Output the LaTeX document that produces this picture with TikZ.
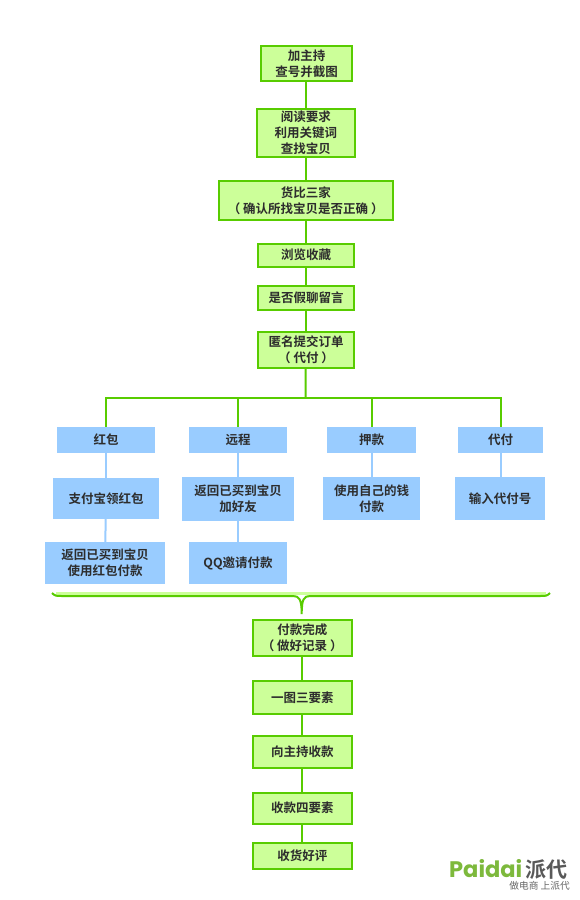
\documentclass[tikz,border=0pt]{standalone}
\usepackage{fontspec}
\setmainfont{Liberation Sans}
\newfontfamily\cjk{Noto Sans CJK SC}[BoldFont={* Bold}]
\newfontfamily\logofont{Poppins}[BoldFont={* Bold}]
\usepackage{xcolor}
\usetikzlibrary{positioning, calc}
\definecolor{pGreenFill}{RGB}{204,255,153}
\definecolor{pGreenLine}{RGB}{88,204,0}
\definecolor{pBlue}{RGB}{153,204,255}
\definecolor{pInk}{RGB}{45,45,45}
\definecolor{pLogo}{RGB}{125,185,60}
\tikzset{
  greenbox/.style={
    rectangle, draw=pGreenLine, line width=2pt, fill=pGreenFill,
    align=center, inner sep=0pt, text=pInk,
    font=\cjk\fontsize{12.5}{16}\selectfont\bfseries
  },
  bluebox/.style={
    rectangle, fill=pBlue,
    align=center, inner sep=0pt, text=pInk,
    font=\cjk\fontsize{12.5}{16}\selectfont\bfseries
  },
  greenline/.style={pGreenLine, line width=2pt},
  blueline/.style={pBlue, line width=2pt}
}
% box with pixel edges: left, right, top, bottom
\newcommand{\pxbox}[7]{\node[#1,minimum width=#4pt-#3pt,minimum height=#6pt-#5pt] (#2) at ({(#3+#4)/2},{(#5+#6)/2}) {#7};}
\begin{document}
\begin{tikzpicture}[x=1pt,y=-1pt]
\useasboundingbox (0,0) rectangle (580,900);
\fill[white] (0,0) rectangle (580,900);
\coordinate (split) at (305.5,398);
\coordinate (tip) at (301.7,614);
% upper chain
\pxbox{greenbox}{host}{261}{352}{46}{81}{加主持\\查号并截图}
\pxbox{greenbox}{read}{257}{354.5}{108.5}{157}{阅读要求\\利用关键词\\查找宝贝}
\pxbox{greenbox}{compare}{218.5}{393}{181}{220}{货比三家\\（ 确认所找宝贝是否正确 ）}
\pxbox{greenbox}{browse}{258}{354}{244}{266.5}{浏览收藏}
\pxbox{greenbox}{chat}{258}{354}{285.5}{309.5}{是否假聊留言}
\pxbox{greenbox}{order}{258}{354}{331.5}{367.5}{匿名提交订单\\（ 代付 ）}
% payment columns
\pxbox{bluebox}{hongbao}{57}{155}{427}{453}{红包}
\pxbox{bluebox}{remote}{189}{287}{427}{453}{远程}
\pxbox{bluebox}{deposit}{327}{416}{427}{453}{押款}
\pxbox{bluebox}{proxy}{458}{543}{427}{453}{代付}
\pxbox{bluebox}{alipay}{53}{159}{478}{519}{支付宝领红包}
\pxbox{bluebox}{back}{182}{294}{477}{521}{返回已买到宝贝\\加好友}
\pxbox{bluebox}{ownmoney}{323}{420}{477}{520}{使用自己的钱\\付款}
\pxbox{bluebox}{code}{455}{545}{477}{520}{输入代付号}
\pxbox{bluebox}{usehb}{45}{165}{542}{584}{返回已买到宝贝\\使用红包付款}
\pxbox{bluebox}{qq}{189}{287}{542}{584}{QQ邀请付款}
% lower chain
\pxbox{greenbox}{done}{253}{351.5}{620}{656}{付款完成\\（ 做好记录 ）}
\pxbox{greenbox}{three}{253}{351.5}{681}{713.5}{一图三要素}
\pxbox{greenbox}{collect}{253}{351.5}{736}{768}{向主持收款}
\pxbox{greenbox}{four}{253}{351.5}{793}{823.5}{收款四要素}
\pxbox{greenbox}{review}{253}{351.5}{843}{869}{收货好评}
\draw[greenline] (host.south -| read) -- (read);
\draw[greenline] (read) -- (compare);
\draw[greenline] (compare) -- (browse.north -| compare);
\draw[greenline] (browse.south -| compare) -- (chat.north -| compare);
\draw[greenline] (chat.south -| compare) -- (order.north -| compare);
\draw[greenline] (order.south -| compare) -- (split);
\draw[greenline] (hongbao.north) |- (split) -| (proxy.north);
\draw[greenline] (remote.north) -- (remote.north |- split);
\draw[greenline] (deposit.north) -- (deposit.north |- split);
\draw[blueline] (hongbao) -- (alipay);
\draw[blueline] (alipay) -- (usehb);
\draw[blueline] (remote) -- (back.north -| remote);
\draw[blueline] (back.south -| qq) -- (qq);
\draw[blueline] (deposit) -- (ownmoney.north -| deposit);
\draw[blueline] (proxy) -- (code.north -| proxy);
% brace
\coordinate (braceL) at (52,593);
\coordinate (braceR) at (550,593);
\draw[pGreenFill, line width=2.4pt] (56,593.5) -- (546,593.5);
\draw[greenline] (braceL) .. controls (55,596) and (56,596) .. (62,596) -- (293,596) .. controls (299,596) and (301.7,599) .. (tip) .. controls (301.7,599) and (304,596) .. (310,596) -- (540,596) .. controls (546,596) and (547,596) .. (braceR);
\draw[greenline] (done.south -| three) -- (three);
\draw[greenline] (three) -- (collect);
\draw[greenline] (collect) -- (four);
\draw[greenline] (four) -- (review);
% logo
\node[font=\logofont\bfseries\fontsize{22.5}{22.5}\selectfont, text=pLogo, anchor=base west, inner sep=0pt] (logo) at (449,877) {Paidai};
\node[font=\cjk\bfseries\fontsize{21}{21}\selectfont, text=black!65, anchor=base west, inner sep=0pt] (logocn) at (525,877) {派代};
\node[font=\cjk\fontsize{9.7}{10}\selectfont, text=black!60, anchor=base east, inner sep=0pt] (slogan) at (570,889.5) {做电商 上派代};
\end{tikzpicture}
\end{document}
